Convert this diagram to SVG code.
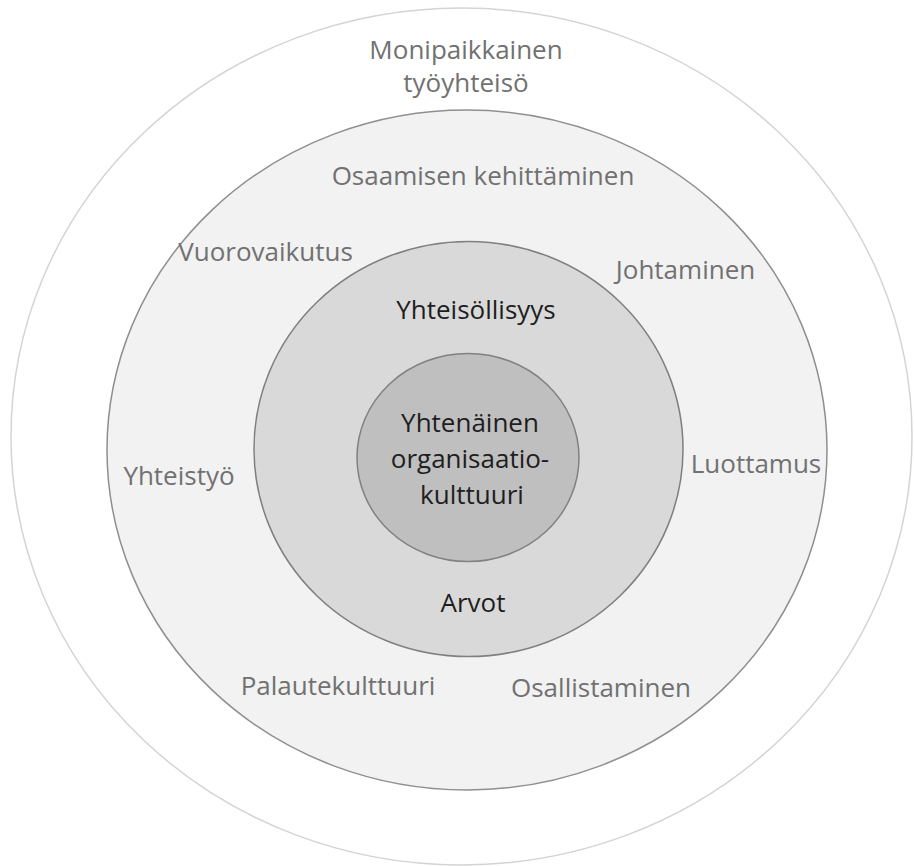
<svg xmlns="http://www.w3.org/2000/svg" width="914" height="866" viewBox="0 0 914 866">
<style>
  .lbl { font-family: "Open Sans", "Liberation Sans", sans-serif; font-size: 26px; text-anchor: middle; }
  .gray { fill: #717171; }
  .dark { fill: #1e1e1e; }
  .ring { stroke-width: 1.5; }
</style>
<rect width="914" height="866" fill="#ffffff"/>
<g id="outer">
  <ellipse cx="461.5" cy="436.5" rx="450.5" ry="428.5" fill="#ffffff" stroke="#d4d4d4" class="ring"/>
  <text class="lbl gray" x="466" y="59">Monipaikkainen</text>
  <text class="lbl gray" x="466" y="92">työyhteisö</text>
</g>
<g id="ring2">
  <ellipse cx="467" cy="450" rx="360" ry="340" fill="#f2f2f2" stroke="#8f8f8f" class="ring"/>
  <text class="lbl gray" x="483" y="185">Osaamisen kehittäminen</text>
  <text class="lbl gray" x="265.5" y="261">Vuorovaikutus</text>
  <text class="lbl gray" x="685.5" y="279">Johtaminen</text>
  <text class="lbl gray" x="179" y="485">Yhteistyö</text>
  <text class="lbl gray" x="756" y="473">Luottamus</text>
  <text class="lbl gray" x="338" y="695">Palautekulttuuri</text>
  <text class="lbl gray" x="601" y="697">Osallistaminen</text>
</g>
<g id="ring3">
  <ellipse cx="468.5" cy="449" rx="214.5" ry="207.5" fill="#d9d9d9" stroke="#7f7f7f" class="ring"/>
  <text class="lbl dark" x="476" y="319">Yhteisöllisyys</text>
  <text class="lbl dark" x="473" y="612">Arvot</text>
</g>
<g id="core">
  <ellipse cx="468" cy="457.5" rx="111" ry="104" fill="#bfbfbf" stroke="#808080" class="ring"/>
  <text class="lbl dark" x="470" y="432">Yhtenäinen</text>
  <text class="lbl dark" x="470" y="468">organisaatio-</text>
  <text class="lbl dark" x="472" y="504">kulttuuri</text>
</g>
<g id="connectors"></g>
</svg>
